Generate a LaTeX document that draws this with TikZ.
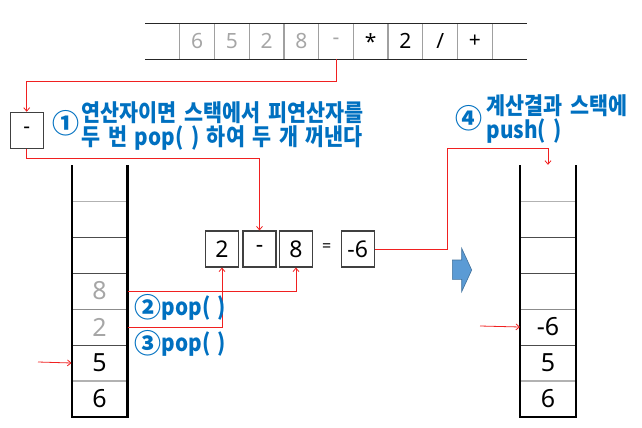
\documentclass[tikz,border=0pt]{standalone}
\usepackage{fontspec}
\setmainfont{Noto Sans}
\newfontfamily\kr{Noto Sans CJK KR}[FakeStretch=0.88,WordSpace=1.6]
\newfontfamily\krc{Noto Sans CJK KR}
\usetikzlibrary{arrows.meta,calc}
\definecolor{lblue}{HTML}{0070C0}
\definecolor{dgray}{HTML}{A6A6A6}
\definecolor{boxgray}{HTML}{404040}
\definecolor{sepgray}{HTML}{A0A0A0}
\definecolor{arrowblue}{HTML}{5B9BD5}
\definecolor{arrowedge}{HTML}{41719C}
\definecolor{redc}{HTML}{F02020}
\begin{document}
\begin{tikzpicture}[x=1pt,y=-1pt,
  topcell/.style={minimum width=34.7pt,minimum height=36pt,inner sep=0pt,font=\fontsize{21}{21}\selectfont},
  opbox/.style={draw=boxgray,line width=1.1pt,minimum width=33pt,minimum height=36pt,inner sep=0pt,font=\fontsize{23}{23}\selectfont},
  scell/.style={minimum width=55.6pt,minimum height=36pt,inner sep=0pt,font=\fontsize{25}{25}\selectfont},
  redline/.style={draw=redc,line width=0.8pt,-{Straight Barb[length=3.5pt,width=6pt]}},
  lbl/.style={text=lblue,font=\kr\bfseries\fontsize{23.5}{24.5}\selectfont,inner sep=0pt,anchor=west,align=left},
  circ/.style={text=lblue,font=\krc\bfseries\fontsize{27}{27}\selectfont,inner sep=0pt},
  wall/.style={line width=2.4pt,black},
  gtxt/.style={text=dgray}
]
\useasboundingbox (0,0) rectangle (642,428);

% ---- top row (expression) ----
\foreach \i/\t/\c in {0//black,1/6/dgray,2/5/dgray,3/2/dgray,4/8/dgray,5/-/dgray,6/*/black,7/2/black,8/\slash/black,9/+/black,10//black}{
  \node[topcell,text=\c] (c\i) at ({145+34.727*(\i+0.5)},41.3) {\t};
}
\foreach \k in {1,...,10}{
  \draw[sepgray,line width=1.2pt] ({145+34.727*\k},23.3) -- ({145+34.727*\k},59.3);
}
\draw[line width=1.4pt,black!85] (145,23.3) -- (527,23.3);
\draw[line width=1.4pt,black!85] (145,59.3) -- (527,59.3);

% ---- operator box ----
\node[opbox,font=\fontsize{21}{21}\selectfont] (op) at (26.7,130.3) {-};
\draw[redline] (c5.south) -- ++(0,22) -| (op.north);

% ---- label 1 ----
\node[circ] (n1) at (65.5,123.5) {①};
\node[lbl] (t1) at (81.5,126) {연산자이면 스택에서 피연산자를\\두 번 pop( ) 하여 두 개 꺼낸다};

% ---- left stack ----
\foreach \j/\t/\s in {1//,2//,3//,4/8/gtxt,5/2/gtxt,6/5/,7/6/}{
  \node[scell,\s] (L\j) at (99.5,{165+36*(\j-0.5)}) {\t};
}
\draw[black!30,line width=1pt] (72,201) -- (127,201);
\draw[black!70,line width=1pt] (72,237) -- (127,237);
\draw[black!70,line width=1pt] (72,273) -- (127,273);
\draw[black!45,line width=1pt] (72,309) -- (127,309);
\draw[black!70,line width=1pt] (72,345) -- (127,345);
\draw[black!30,line width=1.4pt] (72,381) -- (127,381);
\draw[wall] (71.7,165) -- (71.7,417) -- (127.3,417) -- (127.3,165);

\coordinate (lp) at (38,362);
\draw[redline] (lp) -- (L6.west);

% ---- middle expression boxes ----
\node[opbox] (m2) at (222,249) {2};
\node[opbox] (mm) at (259.5,249) {-};
\node[opbox] (m8) at (296,249) {8};
\node[inner sep=0pt,font=\fontsize{16}{16}\selectfont] (eq) at (326.7,248) {=};
\node[opbox] (res) at (357.7,249) {-6};

\draw[redline] (op.south) -- ++(0,10) -| (mm.north);
\draw[redline] (L4.east) -| (m8.south);
\draw[redline] (L5.east) -| (m2.south);

% ---- pop labels ----
\node[circ] (n2) at (148.3,307.5) {②};
\node[lbl] (t2) at (161.5,308) {pop( )};
\node[circ] (n3) at (148.3,343.5) {③};
\node[lbl] (t3) at (161.5,344) {pop( )};

% ---- right stack ----
\foreach \j/\t in {1/,2/,3/,4/,5/-6,6/5,7/6}{
  \node[scell] (R\j) at (548,{165+36*(\j-0.5)}) {\t};
}
\draw[black!30,line width=1pt] (520,201) -- (576,201);
\draw[black!70,line width=1pt] (520,237) -- (576,237);
\draw[black!70,line width=1pt] (520,273) -- (576,273);
\draw[black!45,line width=1pt] (520,309) -- (576,309);
\draw[black!70,line width=1pt] (520,345) -- (576,345);
\draw[black!30,line width=1.4pt] (520,381) -- (576,381);
\draw[wall] (520.2,165) -- (520.2,417) -- (575.8,417) -- (575.8,165);

\coordinate (rp) at (480,326);
\draw[redline] (rp) -- (R5.west);

\coordinate (rturn) at (548,148.3);
\draw[redline] (res.east) -- ++(72.5,0) |- (rturn) -- (R1.north);

% ---- label 4 ----
\node[circ] (n4) at (468.7,118) {④};
\node[lbl] (t4) at (486.5,119) {계산결과 스택에\\push( )};

% ---- block arrow ----
\filldraw[fill=arrowblue,draw=arrowedge,line width=0.6pt] (452.3,260) -- (461.7,260) -- (461.7,248.3) -- (471.7,270) -- (461.7,291.7) -- (461.7,279.3) -- (452.3,279.3) -- cycle;
\end{tikzpicture}
\end{document}
